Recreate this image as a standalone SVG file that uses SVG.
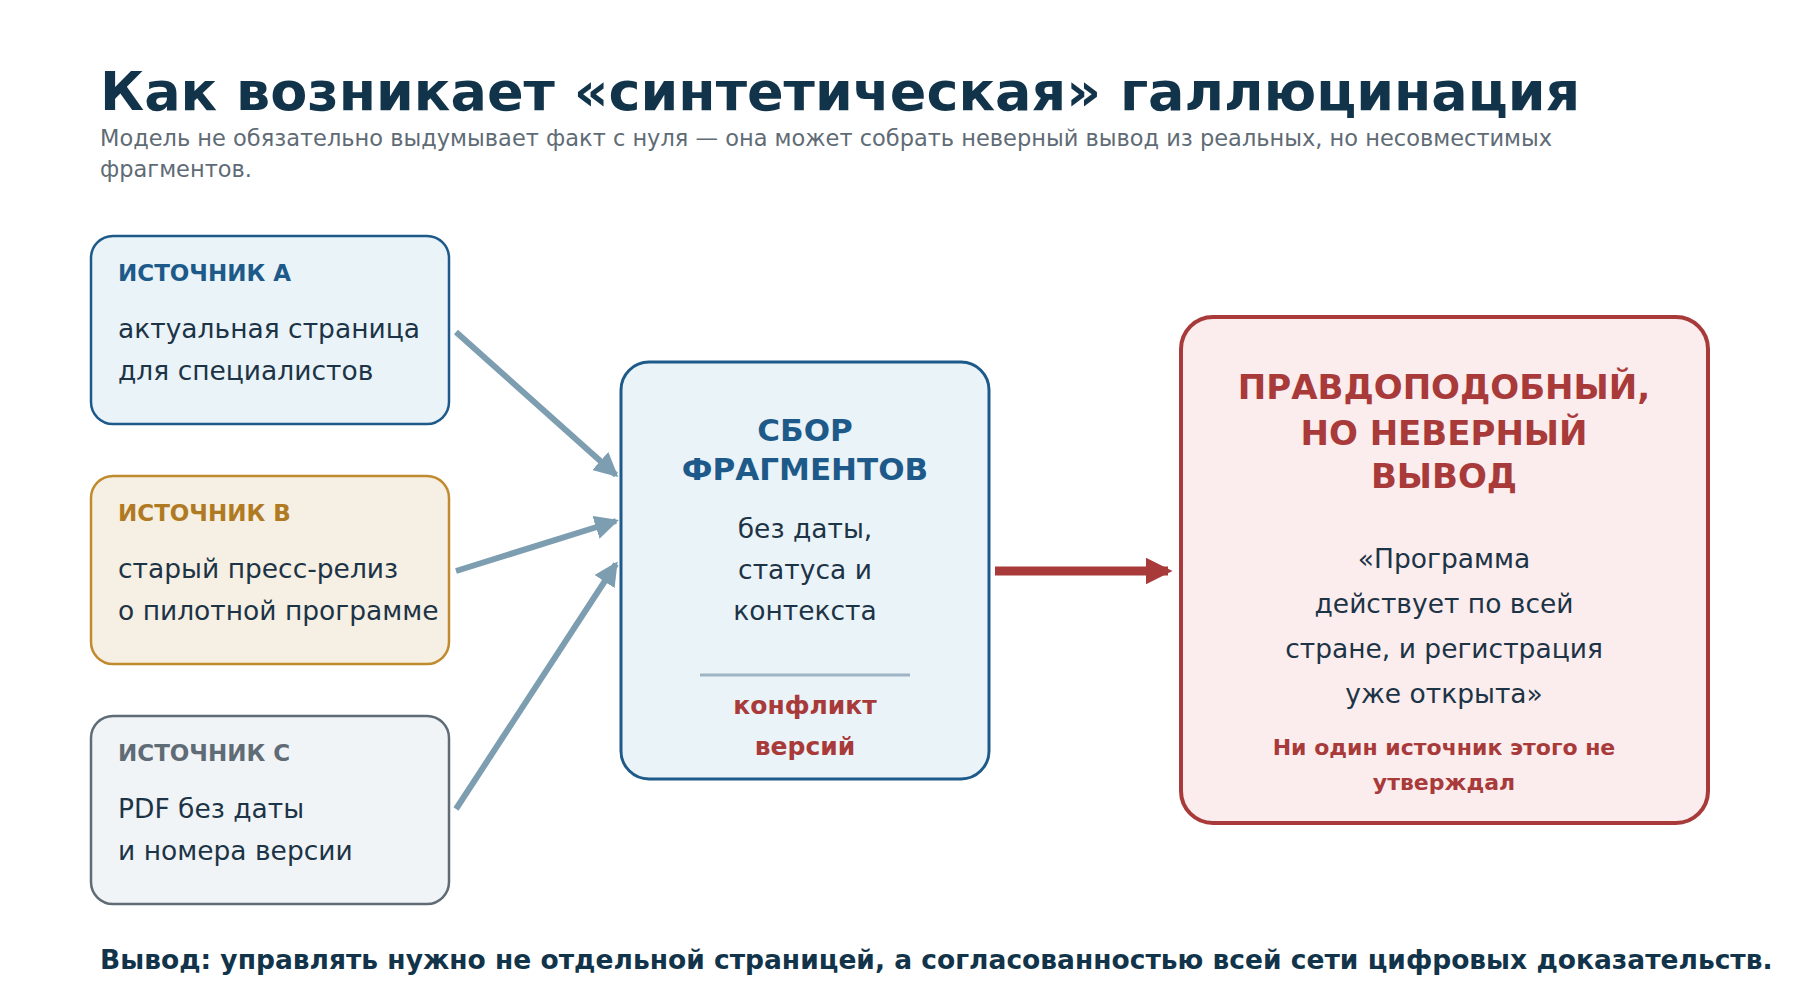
<svg xmlns="http://www.w3.org/2000/svg" width="1800" height="1000" viewBox="0 0 1800 1000">
<style>
text{font-family:"DejaVu Sans","Noto Sans",sans-serif}
.lbl{font-size:23px;font-weight:bold}
.body{font-size:26.5px;fill:#1c3446}
.c{text-anchor:middle}
</style>
<defs>
<marker id="ab" markerWidth="4" markerHeight="4" refX="3.5" refY="2" orient="auto" markerUnits="strokeWidth"><path d="M0,0L4,2L0,4z" fill="#7d9db0"/></marker>
<marker id="ar" markerWidth="3" markerHeight="3" refX="2.5" refY="1.5" orient="auto" markerUnits="strokeWidth"><path d="M0,0L3,1.5L0,3z" fill="#a83a3a"/></marker>
</defs>
<rect width="1800" height="1000" fill="#fff"/>
<text x="100" y="110" font-size="54" font-weight="bold" fill="#12344a">Как возникает «синтетическая» галлюцинация</text>
<text x="100" y="146" font-size="22.5" fill="#5f6b75">Модель не обязательно выдумывает факт с нуля — она может собрать неверный вывод из реальных, но несовместимых</text>
<text x="100" y="177" font-size="22.5" fill="#5f6b75">фрагментов.</text>
<g id="connectors" stroke-width="6" fill="none">
<line x1="456" y1="332" x2="616" y2="475" stroke="#7d9db0" marker-end="url(#ab)"/>
<line x1="456" y1="571" x2="616" y2="521" stroke="#7d9db0" marker-end="url(#ab)"/>
<line x1="456" y1="809" x2="616" y2="564" stroke="#7d9db0" marker-end="url(#ab)"/>
<line x1="995" y1="571" x2="1168" y2="571" stroke="#a83a3a" stroke-width="9" marker-end="url(#ar)"/>
</g>
<g id="srcA">
<rect x="91" y="236" width="358" height="188" rx="22" fill="#eaf3f8" stroke="#1d5a8a" stroke-width="2.5"/>
<text x="118" y="281" class="lbl" fill="#1d5a8a">ИСТОЧНИК A</text>
<text x="118" y="338" class="body">актуальная страница</text>
<text x="118" y="380" class="body">для специалистов</text>
</g>
<g id="srcB">
<rect x="91" y="476" width="358" height="188" rx="22" fill="#f6efe3" stroke="#c08a2e" stroke-width="2.5"/>
<text x="118" y="521" class="lbl" fill="#b07a22">ИСТОЧНИК B</text>
<text x="118" y="578" class="body">старый пресс-релиз</text>
<text x="118" y="620" class="body">о пилотной программе</text>
</g>
<g id="srcC">
<rect x="91" y="716" width="358" height="188" rx="22" fill="#f1f4f7" stroke="#5f6b75" stroke-width="2.5"/>
<text x="118" y="761" class="lbl" fill="#5f6b75">ИСТОЧНИК C</text>
<text x="118" y="818" class="body">PDF без даты</text>
<text x="118" y="860" class="body">и номера версии</text>
</g>
<g id="collect">
<rect x="621" y="362" width="368" height="417" rx="28" fill="#eaf3f8" stroke="#1d5a8a" stroke-width="3"/>
<text x="805" y="441" class="c" font-size="31" font-weight="bold" fill="#1d5a8a">СБОР</text>
<text x="805" y="480" class="c" font-size="31" font-weight="bold" fill="#1d5a8a">ФРАГМЕНТОВ</text>
<text x="805" y="538" class="c body" font-size="28">без даты,</text>
<text x="805" y="579" class="c body" font-size="28">статуса и</text>
<text x="805" y="620" class="c body" font-size="28">контекста</text>
<line x1="700" y1="675" x2="910" y2="675" stroke="#9fb4c3" stroke-width="3"/>
<text x="805" y="714" class="c" font-size="25" font-weight="bold" fill="#a83a3a">конфликт</text>
<text x="805" y="755" class="c" font-size="25" font-weight="bold" fill="#a83a3a">версий</text>
</g>
<g id="result">
<rect x="1181" y="317" width="527" height="506" rx="32" fill="#fbeced" stroke="#a83a3a" stroke-width="4"/>
<text x="1444" y="399" class="c" font-size="34" font-weight="bold" fill="#a83a3a">ПРАВДОПОДОБНЫЙ,</text>
<text x="1444" y="445" class="c" font-size="34" font-weight="bold" fill="#a83a3a">НО НЕВЕРНЫЙ</text>
<text x="1444" y="488" class="c" font-size="34" font-weight="bold" fill="#a83a3a">ВЫВОД</text>
<text x="1444" y="568" class="c body" font-size="31">«Программа</text>
<text x="1444" y="613" class="c body" font-size="31">действует по всей</text>
<text x="1444" y="658" class="c body" font-size="31">стране, и регистрация</text>
<text x="1444" y="703" class="c body" font-size="31">уже открыта»</text>
<text x="1444" y="755" class="c" font-size="22" font-weight="bold" fill="#a83a3a">Ни один источник этого не</text>
<text x="1444" y="790" class="c" font-size="22" font-weight="bold" fill="#a83a3a">утверждал</text>
</g>
<text x="100" y="969" font-size="26.5" font-weight="bold" fill="#12344a">Вывод: управлять нужно не отдельной страницей, а согласованностью всей сети цифровых доказательств.</text>
</svg>
